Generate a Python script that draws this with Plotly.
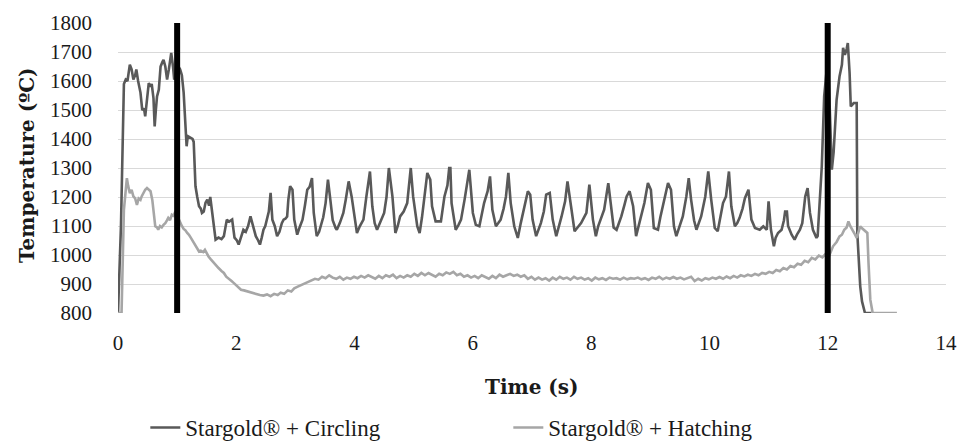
import plotly.graph_objects as go

# ---- data ----
time_circling = [
    0.00, 0.05, 0.10, 0.13, 0.16, 0.20, 0.23, 0.26, 0.29, 0.31, 0.34, 0.38, 0.41, 0.44, 0.46, 0.49,
    0.52, 0.55, 0.57, 0.60, 0.62, 0.64, 0.66, 0.69, 0.72, 0.75, 0.77, 0.80, 0.83, 0.86, 0.88, 0.90,
    0.93, 0.95, 0.98, 1.02, 1.05, 1.08, 1.11, 1.13, 1.16, 1.18, 1.22, 1.26, 1.28, 1.31, 1.34, 1.37,
    1.40, 1.42, 1.45, 1.48, 1.51, 1.54, 1.56, 1.59, 1.62, 1.65, 1.70, 1.75, 1.79, 1.82, 1.84, 1.88,
    1.93, 1.97, 2.01, 2.04, 2.08, 2.12, 2.16, 2.20, 2.24, 2.28, 2.33, 2.37, 2.40, 2.43, 2.46, 2.49,
    2.52, 2.55, 2.58, 2.61, 2.65, 2.69, 2.73, 2.77, 2.80, 2.83, 2.86, 2.88, 2.91, 2.95, 2.98, 3.01,
    3.03, 3.07, 3.12, 3.16, 3.20, 3.24, 3.28, 3.31, 3.36, 3.40, 3.43, 3.47, 3.51, 3.55, 3.59, 3.63,
    3.68, 3.70, 3.75, 3.81, 3.85, 3.90, 3.95, 4.02, 4.04, 4.09, 4.15, 4.20, 4.26, 4.30, 4.34, 4.38,
    4.44, 4.50, 4.54, 4.58, 4.64, 4.69, 4.73, 4.77, 4.83, 4.89, 4.95, 4.99, 5.06, 5.10, 5.14, 5.18,
    5.23, 5.28, 5.31, 5.37, 5.46, 5.52, 5.57, 5.60, 5.62, 5.64, 5.71, 5.76, 5.80, 5.86, 5.90, 5.94,
    6.00, 6.05, 6.11, 6.15, 6.19, 6.25, 6.29, 6.33, 6.39, 6.43, 6.47, 6.52, 6.56, 6.60, 6.64, 6.70,
    6.76, 6.81, 6.87, 6.93, 6.97, 7.01, 7.07, 7.11, 7.15, 7.20, 7.24, 7.30, 7.35, 7.41, 7.45, 7.50,
    7.56, 7.60, 7.66, 7.72, 7.77, 7.83, 7.88, 7.92, 7.97, 8.03, 8.08, 8.12, 8.17, 8.22, 8.29, 8.34,
    8.38, 8.43, 8.51, 8.56, 8.60, 8.65, 8.71, 8.76, 8.80, 8.84, 8.90, 8.96, 9.01, 9.06, 9.13, 9.17,
    9.21, 9.30, 9.35, 9.40, 9.44, 9.50, 9.55, 9.61, 9.65, 9.69, 9.74, 9.78, 9.82, 9.86, 9.93, 9.98,
    10.03, 10.09, 10.14, 10.18, 10.23, 10.28, 10.33, 10.37, 10.43, 10.47, 10.51, 10.56, 10.60, 10.66,
    10.71, 10.77, 10.85, 10.91, 10.97, 11.00, 11.04, 11.09, 11.12, 11.16, 11.22, 11.26, 11.28, 11.31,
    11.33, 11.39, 11.44, 11.48, 11.53, 11.57, 11.62, 11.66, 11.70, 11.75, 11.81, 11.83, 11.87, 11.90,
    11.94, 11.98, 12.01, 12.05, 12.07, 12.10, 12.15, 12.20, 12.24, 12.26, 12.29, 12.32, 12.34, 12.37,
    12.39, 12.44, 12.49, 12.50, 12.53, 12.55, 12.58, 12.63, 12.74,
]
temp_circling = [
    800, 1100, 1590, 1605, 1600, 1656, 1640, 1605, 1620, 1640, 1600, 1560, 1500, 1505, 1478, 1540,
    1593, 1580, 1590, 1540, 1443, 1500, 1547, 1570, 1650, 1665, 1673, 1650, 1605, 1640, 1680, 1697,
    1650, 1605, 1620, 1650, 1640, 1620, 1560, 1478, 1375, 1410, 1405, 1400, 1390, 1237, 1200, 1168,
    1160, 1145, 1150, 1180, 1191, 1170, 1200, 1145, 1100, 1053, 1060, 1055, 1065, 1100, 1122, 1115,
    1122, 1060, 1050, 1036, 1060, 1087, 1080, 1100, 1133, 1100, 1065, 1050, 1036, 1060, 1087, 1100,
    1128, 1150, 1214, 1122, 1100, 1065, 1080, 1110, 1122, 1125, 1133, 1190, 1237, 1225, 1122, 1090,
    1070, 1095, 1122, 1170, 1225, 1235, 1265, 1145, 1065, 1080, 1099, 1130, 1179, 1260, 1191, 1120,
    1093, 1087, 1110, 1145, 1190, 1254, 1202, 1099, 1076, 1100, 1122, 1202, 1288, 1168, 1110, 1087,
    1115, 1145, 1200, 1300, 1202, 1076, 1100, 1133, 1150, 1179, 1300, 1202, 1099, 1076, 1130, 1191,
    1283, 1260, 1168, 1116, 1116, 1202, 1240, 1300, 1300, 1179, 1087, 1105, 1122, 1191, 1240, 1294,
    1145, 1104, 1099, 1140, 1179, 1220, 1271, 1156, 1099, 1110, 1122, 1160, 1202, 1283, 1179, 1099,
    1059, 1110, 1168, 1220, 1208, 1122, 1065, 1090, 1110, 1150, 1208, 1214, 1122, 1065, 1100, 1133,
    1185, 1254, 1168, 1082, 1095, 1110, 1130, 1145, 1243, 1122, 1065, 1100, 1128, 1156, 1248, 1160,
    1095, 1087, 1133, 1170, 1202, 1220, 1168, 1065, 1100, 1133, 1179, 1248, 1225, 1093, 1087, 1130,
    1168, 1248, 1225, 1099, 1065, 1100, 1133, 1202, 1265, 1191, 1120, 1087, 1110, 1133, 1202, 1288,
    1191, 1093, 1082, 1130, 1179, 1202, 1288, 1168, 1099, 1110, 1128, 1160, 1196, 1225,
    1122, 1093, 1087, 1099, 1087, 1185, 1087, 1030, 1060, 1076, 1087, 1120, 1150, 1150,
    1100, 1070, 1053, 1070, 1087, 1110, 1202, 1231, 1145, 1087, 1059, 1065, 1191, 1306,
    1547, 1633, 1650, 1350, 1294, 1355, 1535, 1616, 1656, 1714, 1690, 1710, 1731, 1627,
    1512, 1524, 1524, 1076, 950, 892, 840, 800, 800,
]

time_hatching = [
    0.00, 0.06, 0.10, 0.13, 0.15, 0.17, 0.20, 0.23, 0.26, 0.29, 0.32, 0.35, 0.38, 0.40, 0.43, 0.46,
    0.49, 0.52, 0.55, 0.58, 0.60, 0.63, 0.66, 0.68, 0.71, 0.74, 0.77, 0.80, 0.83, 0.85, 0.88, 0.91,
    0.94, 0.96, 0.99, 1.02, 1.05, 1.08, 1.11, 1.14, 1.17, 1.20, 1.23, 1.26, 1.28, 1.31, 1.34, 1.37,
    1.40, 1.44, 1.47, 1.50, 1.53, 1.57, 1.62, 1.66, 1.70, 1.75, 1.79, 1.83, 1.88, 1.92, 1.96, 2.00,
    2.04, 2.08, 2.13, 2.18, 2.23, 2.28, 2.34, 2.40, 2.46, 2.52, 2.58, 2.64, 2.70, 2.75, 2.81, 2.87,
    2.93, 2.98, 3.03, 3.09, 3.15, 3.21, 3.27, 3.33, 3.39, 3.45, 3.51, 3.57, 3.63, 3.69, 3.75, 3.81,
    3.87, 3.93, 3.99, 4.05, 4.11, 4.17, 4.23, 4.29, 4.35, 4.41, 4.47, 4.53, 4.59, 4.65, 4.71, 4.77,
    4.83, 4.89, 4.95, 5.01, 5.07, 5.13, 5.19, 5.25, 5.31, 5.37, 5.43, 5.49, 5.55, 5.61, 5.67, 5.73,
    5.79, 5.85, 5.91, 5.97, 6.03, 6.09, 6.15, 6.21, 6.27, 6.33, 6.39, 6.45, 6.51, 6.57, 6.63, 6.69,
    6.75, 6.81, 6.87, 6.93, 6.99, 7.05, 7.11, 7.17, 7.23, 7.29, 7.35, 7.41, 7.47, 7.53, 7.59, 7.65,
    7.71, 7.77, 7.83, 7.89, 7.95, 8.01, 8.07, 8.13, 8.19, 8.25, 8.31, 8.37, 8.43, 8.49, 8.55, 8.61,
    8.67, 8.73, 8.79, 8.85, 8.91, 8.97, 9.03, 9.09, 9.15, 9.21, 9.27, 9.33, 9.39, 9.45, 9.51, 9.57,
    9.63, 9.69, 9.75, 9.81, 9.87, 9.93, 9.99, 10.05, 10.11, 10.17, 10.23, 10.29, 10.35, 10.41, 10.47,
    10.53, 10.59, 10.65, 10.71, 10.77, 10.83, 10.89, 10.95, 11.01, 11.07, 11.13, 11.19, 11.25, 11.31,
    11.37, 11.43, 11.49, 11.55, 11.61, 11.67, 11.73, 11.79, 11.85, 11.91, 11.97, 12.03, 12.09, 12.15,
    12.20, 12.24, 12.28, 12.32, 12.35, 12.38, 12.41, 12.45, 12.49, 12.52, 12.55, 12.58, 12.61, 12.64,
    12.67, 12.69, 12.72, 12.76, 13.17,
]
temp_hatching = [
    800, 800, 1156, 1230, 1265, 1240, 1213, 1225, 1202, 1195, 1173, 1195, 1190, 1202, 1215, 1225,
    1231, 1225, 1220, 1190, 1156, 1099, 1095, 1087, 1100, 1095, 1104, 1110, 1120, 1128, 1120, 1139,
    1135, 1145, 1140, 1125, 1110, 1100, 1090, 1085, 1076, 1070, 1060, 1050, 1041, 1030, 1020, 1012,
    1015, 1010, 1018, 1005, 995, 985, 972, 965, 955, 945, 938, 925, 915, 910, 903, 895,
    885, 880, 878, 875, 872, 868, 866, 862, 860, 864, 858, 866, 862, 870, 866, 878,
    874, 885, 890, 896, 902, 908, 912, 918, 915, 925, 920, 930, 922, 918, 925, 915,
    922, 918, 925, 920, 928, 922, 930, 924, 918, 928, 920, 930, 925, 932, 920, 928,
    922, 930, 925, 935, 928, 938, 930, 938, 932, 925, 935, 930, 940, 935, 942, 930,
    935, 925, 930, 922, 928, 920, 930, 925, 918, 928, 920, 932, 925, 930, 935, 928,
    932, 925, 930, 918, 925, 915, 922, 915, 920, 912, 922, 915, 925, 918, 922, 915,
    925, 918, 922, 915, 920, 912, 922, 916, 920, 914, 922, 918, 920, 915, 922, 916,
    920, 918, 922, 916, 920, 914, 922, 918, 925, 916, 922, 918, 924, 918, 922, 916,
    920, 925, 910, 918, 912, 920, 916, 922, 918, 924, 918, 926, 920, 928, 922,
    930, 926, 932, 928, 935, 930, 938, 935, 942, 938, 948, 944, 955, 950,
    962, 958, 970, 966, 980, 975, 990, 985, 998, 992, 1005, 1000, 1030, 1045,
    1064, 1070, 1087, 1095, 1116, 1100, 1087, 1075, 1059, 1080, 1099, 1092, 1087, 1080,
    1076, 972, 846, 800, 800,
]

marker_times = [1, 12]          # the two black vertical markers
temp_range = [800, 1800]
x_ticks = [0, 2, 4, 6, 8, 10, 12, 14]
y_ticks = list(range(800, 1801, 100))

series_names = ["Stargold® + Circling", "Stargold® + Hatching"]

FONT = "Liberation Serif"
TITLE_FONT = "DejaVu Serif"

fig = go.Figure()
fig.add_trace(go.Scatter(x=time_circling, y=temp_circling, mode="lines",
                         name=series_names[0],
                         line=dict(color="#595959", width=2.6)))
fig.add_trace(go.Scatter(x=time_hatching, y=temp_hatching, mode="lines",
                         name=series_names[1],
                         line=dict(color="#a6a6a6", width=2.6)))
for mt in marker_times:
    fig.add_trace(go.Scatter(x=[mt, mt], y=temp_range, mode="lines",
                             showlegend=False, hoverinfo="skip",
                             line=dict(color="black", width=6)))

fig.update_layout(
    width=963, height=443,
    margin=dict(l=118, r=17, t=23, b=130, autoexpand=False),
    paper_bgcolor="white", plot_bgcolor="white",
    font=dict(family=FONT, size=21, color="#1a1a1a"),
    showlegend=True,
    legend=dict(orientation="h", x=0.033, xanchor="left", y=-0.395, yanchor="middle",
                font=dict(family=FONT, size=23, color="#1a1a1a"),
                entrywidth=318, entrywidthmode="pixels",
                bgcolor="rgba(0,0,0,0)"),
    xaxis=dict(range=[0, 14], tickvals=x_ticks, showgrid=False, zeroline=False,
               showline=False, ticks="", ticklabelstandoff=15, automargin=False,
               tickfont=dict(family=FONT, size=21, color="#1a1a1a")),
    yaxis=dict(range=temp_range, tickvals=y_ticks, showgrid=True,
               gridcolor="#d9d9d9", gridwidth=1.3, zeroline=False, showline=False,
               ticks="", ticklabelstandoff=25, automargin=False,
               tickfont=dict(family=FONT, size=21, color="#1a1a1a")),
    annotations=[
        dict(text="<b>Time (s)</b>", xref="paper", yref="paper", x=0.5, y=-0.255,
             xanchor="center", yanchor="middle", showarrow=False,
             font=dict(family=TITLE_FONT, size=20, color="#1a1a1a")),
        dict(text="<b>Temperature (ºC)</b>", xref="paper", yref="paper",
             x=-0.11, y=0.51, xanchor="center", yanchor="middle", textangle=-90,
             showarrow=False, font=dict(family=TITLE_FONT, size=20, color="#1a1a1a")),
    ],
)

fig.write_html("out.html")
